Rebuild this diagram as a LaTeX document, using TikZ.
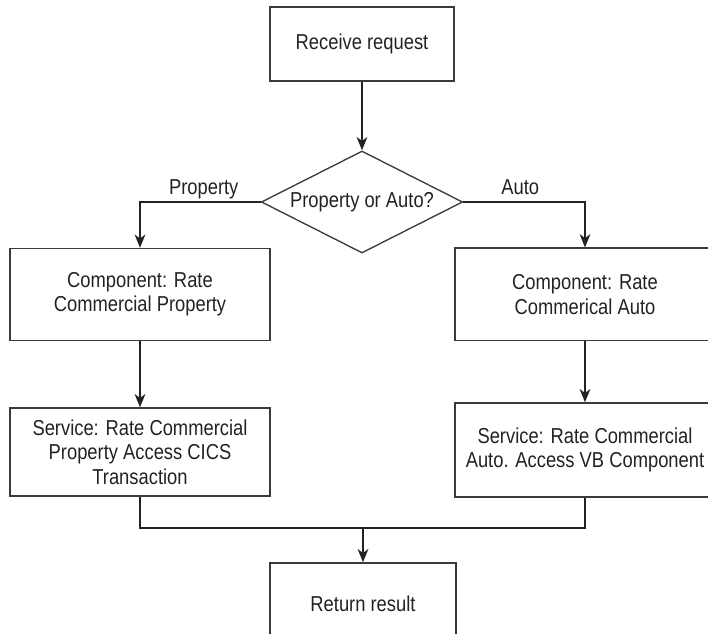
\documentclass[tikz,border=0pt]{standalone}
\usepackage{fontspec}
\setmainfont{Liberation Sans}[FakeStretch=0.85]
\usetikzlibrary{shapes.geometric,arrows.meta}
\definecolor{ink}{HTML}{222222}
\definecolor{edge}{HTML}{3A3A3A}
\begin{document}
\begin{tikzpicture}[x=0.75pt,y=-0.75pt,
  font=\fontsize{16.2}{18.3}\selectfont,
  box/.style={draw=edge,line width=1pt,rectangle,inner sep=0pt,
              text=ink,align=center,minimum width=#1},
  box/.default={195pt},
  choice/.style={draw=edge,line width=1pt,diamond,aspect=1.97,inner sep=0pt,
                 text=ink,minimum width=151pt,minimum height=76.5pt},
  flow/.style={draw=ink,line width=1.3pt,
               -{Stealth[length=10pt,width=8pt,inset=3pt]}},
  mergeline/.style={draw=ink,line width=1.3pt},
  lbl/.style={text=ink,inner sep=0pt,anchor=base,yshift=5.25pt}]
  \clip (0,0) rectangle (708,634);
  % process steps
  \node[box=138pt, minimum height=55.5pt] (recv) at (362,44) {Receive request};
  \node[choice] (dec) at (362,202) {Property or Auto?};
  \node[box, minimum height=69pt] (lcomp) at (140,294.5) {Component: Rate\\Commercial Property};
  \node[box, minimum height=69.5pt] (rcomp) at (585,294.5) {Component: Rate\\Commerical Auto};
  \node[box, minimum height=66pt] (lserv) at (140,452) {Service: Rate Commercial\\Property Access CICS\\Transaction};
  \node[box, minimum height=70.5pt] (rserv) at (585,450) {Service: Rate Commercial\\Auto. Access VB Component};
  \node[box=139.5pt, minimum height=61.5pt] (ret) at (363,604) {Return result};
  \coordinate (merge) at (363,528);
  % connectors
  \draw[flow] (recv.south) -- (dec.north);
  \draw[flow] (dec.west) -| node[lbl, pos=0.236] {Property} (lcomp.north);
  \draw[flow] (dec.east) -| node[lbl, pos=0.234] {Auto} (rcomp.north);
  \draw[flow] (lcomp.south) -- (lserv.north);
  \draw[flow] (rcomp.south) -- (rserv.north);
  \draw[mergeline] (lserv.south) |- (merge);
  \draw[mergeline] (rserv.south) |- (merge);
  \draw[flow] (merge) -- (ret.north);
\end{tikzpicture}
\end{document}
